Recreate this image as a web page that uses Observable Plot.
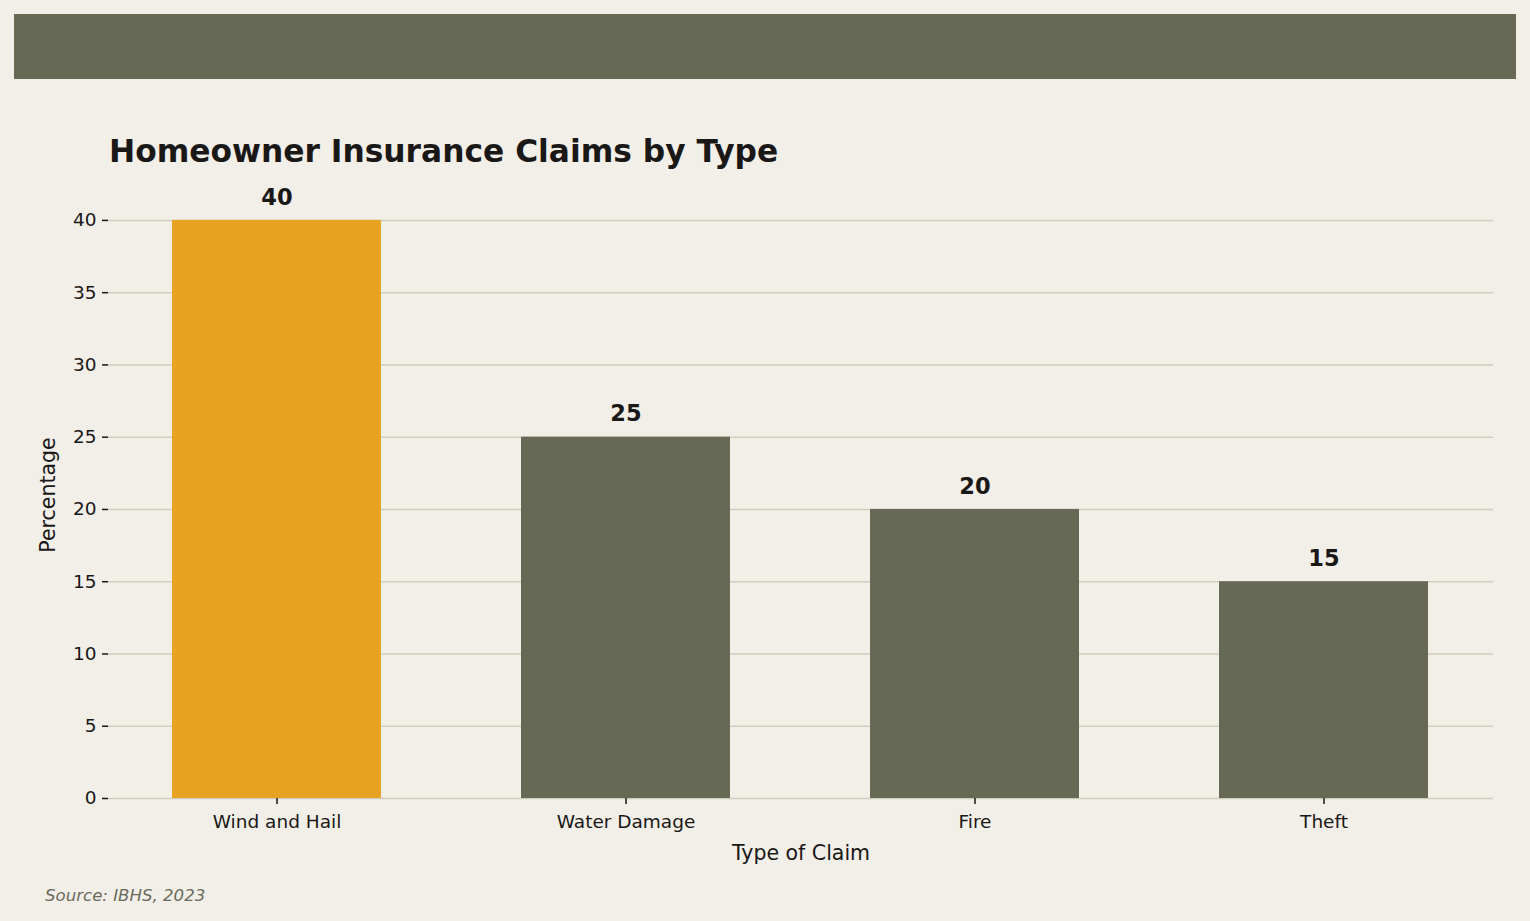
<!DOCTYPE html>
<html>
<head>
<meta charset="utf-8">
<script src="https://cdn.jsdelivr.net/npm/d3@7"></script>
<script src="https://cdn.jsdelivr.net/npm/@observablehq/plot@0.6"></script>
<style>
  html, body { margin: 0; padding: 0; background: #f2efe8; }
  #wrap { position: relative; width: 1530px; height: 921px; background: #f2efe8; font-family: "DejaVu Sans", sans-serif; }
  #banner { position: absolute; left: 14px; top: 14px; width: 1502px; height: 65px; background: #666a55; }
  #title { position: absolute; left: 109px; top: 133px; font-size: 31.3px; font-weight: bold; color: #1a1717; white-space: nowrap; line-height: 36px; }
  #source { position: absolute; left: 45px; top: 886px; font-size: 16.6px; font-style: italic; color: #6b6b5a; white-space: nowrap; }
  #chart { position: absolute; left: 0; top: 0; }
</style>
</head>
<body>
<div id="wrap">
  <div id="chart"></div>
  <div id="banner"></div>
  <div id="title">Homeowner Insurance Claims by Type</div>
  <div id="source">Source: IBHS, 2023</div>
</div>
<script>
const categories = ["Wind and Hail", "Water Damage", "Fire", "Theft"];
const values = [40, 25, 20, 15];
const highlight = ["Wind and Hail"];
const yTicks = [0, 5, 10, 15, 20, 25, 30, 35, 40];

const data = categories.map((c, i) => ({ type: c, value: values[i] }));

const chart = Plot.plot({
  width: 1530,
  height: 921,
  marginLeft: 108,
  marginRight: 37,
  marginTop: 191,
  marginBottom: 123,
  style: { background: "transparent", fontFamily: "DejaVu Sans, sans-serif", color: "#1a1717" },
  x: { domain: categories, paddingInner: 0.4, paddingOuter: 0.18, label: null },
  y: { domain: [0, 42], label: null },
  marks: [
    Plot.ruleY(yTicks, { stroke: "#cfcdbd", strokeWidth: 1.5 }),
    Plot.barY(data, {
      x: "type", y: "value",
      fill: d => highlight.includes(d.type) ? "#e8a323" : "#666a55"
    }),
    Plot.text(data, {
      x: "type", y: "value", text: d => String(d.value),
      dy: -23, fontSize: 22.5, fontWeight: "bold", fill: "#1a1717"
    }),
    Plot.axisY({
      ticks: yTicks, tickSize: 6, tickPadding: 6, fontSize: 18.5,
      stroke: "#1a1717", strokeWidth: 1.5, label: null
    }),
    Plot.axisX({
      tickSize: 6, tickPadding: 10, fontSize: 18.5, stroke: "#1a1717", strokeWidth: 1.5, label: null
    }),
    Plot.text(["Percentage"], {
      frameAnchor: "left", textAnchor: "middle", dx: -60, rotate: -90, fontSize: 20.5, fill: "#1a1717"
    }),
    Plot.text(["Type of Claim"], {
      frameAnchor: "bottom", dy: 61, fontSize: 20.5, fill: "#1a1717"
    })
  ]
});
document.getElementById("chart").appendChild(chart);
</script>
</body>
</html>
